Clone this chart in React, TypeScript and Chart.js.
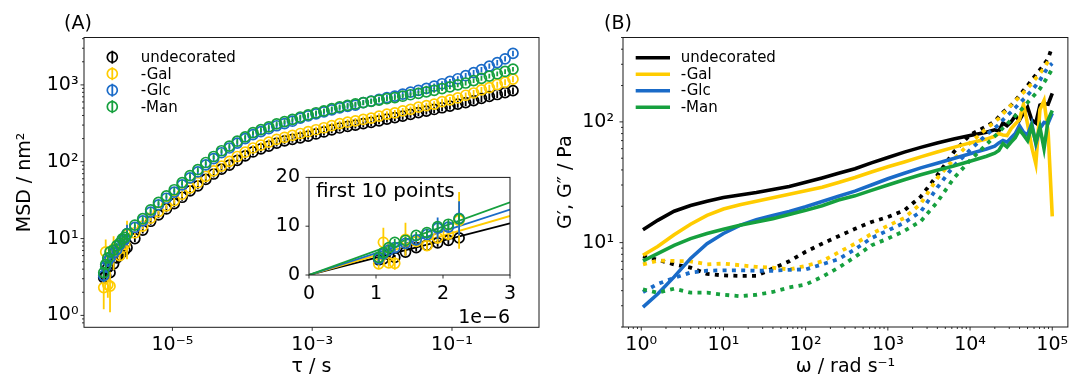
import React, { useEffect, useRef } from 'react';
import { Chart, registerables } from 'chart.js';

Chart.register(...registerables);

const FONT_FAMILY = "'DejaVu Sans', 'Liberation Sans', sans-serif";
Chart.defaults.font.family = FONT_FAMILY;

const SERIES_LABELS = ['undecorated', '-Gal', '-Glc', '-Man'];
const SERIES_COLORS = ['#000000', '#FFCC00', '#1A6BC8', '#16A03E'];

// ---------------- Panel A: MSD vs tau ----------------
const TAU_S = [
  1.04e-6, 1.11e-6, 1.19e-6, 1.28e-6, 1.44e-6, 1.6e-6, 1.76e-6, 1.92e-6, 2.08e-6, 2.24e-6,
  2.9e-6, 3.76e-6, 4.88e-6, 6.32e-6, 8.2e-6, 1.062e-5, 1.377e-5, 1.786e-5, 2.31e-5, 3.0e-5,
  3.89e-5, 5.04e-5, 6.53e-5, 8.47e-5, 1.099e-4, 1.422e-4, 1.845e-4, 2.393e-4, 3.1e-4, 4.02e-4,
  5.21e-4, 6.75e-4, 8.75e-4, 1.135e-3, 1.472e-3, 1.905e-3, 2.47e-3, 3.21e-3, 4.15e-3, 5.38e-3,
  6.98e-3, 9.04e-3, 1.172e-2, 1.521e-2, 1.972e-2, 2.55e-2, 3.31e-2, 4.3e-2, 5.56e-2, 7.21e-2,
  9.35e-2, 0.121, 0.157, 0.204, 0.264, 0.342, 0.444, 0.575, 0.746,
];

const MSD_UNDECORATED = [
  3.1, 3.3, 4.2, 3.6, 4.7, 5.6, 6.1, 6.6, 7.1, 7.6,
  10.0, 12.9, 16.8, 20.4, 24.3, 28.5, 34.5, 41.7, 48.6, 58.9,
  69.2, 80.0, 90.2, 104, 119, 134, 147, 160, 175, 187,
  196, 205, 216, 230, 244, 260, 275, 288, 300, 313,
  325, 341, 359, 376, 392, 414, 437, 457, 479, 504,
  531, 562, 589, 624, 668, 708, 750, 794, 841,
];
const MSD_GAL = [
  2.3, 6.7, 2.5, 2.4, 7.3, 6.9, 6.0, 7.6, 8.4, 11.2,
  11.9, 14.5, 18.4, 22.4, 26.6, 31.3, 37.8, 45.7, 53.3, 64.6,
  75.9, 87.7, 101, 117, 133, 151, 165, 180, 196, 208,
  220, 233, 246, 261, 277, 295, 313, 327, 340, 355,
  369, 392, 417, 432, 460, 481, 513, 537, 562, 605,
  638, 676, 733, 785, 861, 923, 1012, 1084, 1189,
];
const MSD_GLC = [
  3.3, 4.3, 5.1, 5.6, 6.5, 7.2, 8.3, 9.6, 9.8, 11.6,
  14.0, 17.0, 22.1, 27.5, 33.5, 40.3, 49.9, 61.7, 73.6, 91.2,
  110, 131, 151, 175, 200, 225, 247, 269, 294, 314,
  337, 369, 394, 419, 445, 473, 501, 525, 546, 589,
  617, 649, 684, 716, 759, 804, 851, 902, 966, 1035,
  1109, 1202, 1318, 1445, 1585, 1758, 1950, 2188, 2570,
];
const MSD_MAN = [
  3.6, 4.6, 5.6, 6.7, 7.1, 8.1, 8.7, 9.9, 10.4, 11.5,
  15.0, 18.2, 23.7, 29.5, 35.9, 43.2, 53.5, 66.1, 78.9, 97.7,
  117, 139, 160, 185, 211, 239, 262, 285, 311, 333,
  356, 382, 407, 434, 460, 490, 519, 543, 565, 589,
  612, 635, 661, 684, 713, 745, 776, 813, 851, 895,
  944, 1000, 1059, 1135, 1216, 1303, 1396, 1496, 1603,
];

// error bars of the first 10 points (nm^2)
const ERR10_UNDECORATED = [0.5, 0.6, 0.6, 0.5, 0.7, 0.8, 0.8, 0.8, 0.9, 1.0];
const ERR10_GAL = [1.1, 3.0, 0.8, 1.3, 3.4, 0.9, 0.9, 1.2, 1.3, 5.8];
const ERR10_GLC = [0.6, 0.7, 0.7, 0.7, 0.8, 0.8, 0.9, 2.2, 1.1, 3.5];
const ERR10_MAN = [0.5, 0.6, 0.6, 0.7, 0.7, 0.7, 0.8, 0.8, 0.9, 1.0];
// relative error of the later points
const REL_ERR = [0.1, 0.09, 0.08, 0.07];
const INSET_POINTS = 10;
// value of the linear fits at tau = 3e-6 s
const FIT_AT_3US = [10.6, 12.1, 13.4, 14.9];

const A_X_MIN = 5.43e-7;
const A_X_MAX = 1.758;
const A_Y_MIN = 0.713;
const A_Y_MAX = 4140;
const A_X_TICK_VALUES = [1e-5, 1e-3, 1e-1];
const A_X_TICK_LABELS = ['10⁻⁵', '10⁻³', '10⁻¹'];
const A_Y_TICK_VALUES = [1, 10, 100, 1000];
const A_Y_TICK_LABELS = ['10⁰', '10¹', '10²', '10³'];

const INSET_X_TICK_VALUES = [0, 1e-6, 2e-6, 3e-6];
const INSET_X_TICK_LABELS = ['0', '1', '2', '3'];
const INSET_Y_TICK_VALUES = [0, 10, 20];
const INSET_Y_TICK_LABELS = ['0', '10', '20'];

// ---------------- Panel B: G', G'' vs omega ----------------
const OMEGA = [
  1.05, 1.585, 2.512, 3.981, 6.31, 10, 15.85, 25.12, 39.81, 63.1,
  100, 158.5, 251.2, 398.1, 631, 1000, 1585, 2512, 3981, 6310,
  10000, 15850, 19950, 22390, 25120, 28180, 31620, 35480, 39810, 44670,
  50120, 56230, 63100, 70790, 79430, 89130, 100000,
];
const GP_UNDECORATED = [
  12.8, 15.3, 18.2, 20.3, 22.0, 23.6, 24.8, 26.0, 27.5, 29.2,
  31.6, 34.3, 37.5, 40.9, 45.8, 50.7, 56.2, 61.5, 66.8, 72.0,
  77.0, 82.0, 86, 84, 98, 93, 100, 112, 103, 118,
  132, 104, 98, 138, 142, 140, 172,
];
const GP_GAL = [
  7.85, 9.3, 11.6, 14.2, 16.8, 19.0, 20.6, 22.0, 23.5, 25.1,
  26.9, 28.8, 31.5, 34.6, 38.5, 42.5, 46.6, 51.3, 56.2, 61.5,
  67.0, 72.0, 76, 80, 78, 77, 88, 96, 104, 140,
  96, 62, 45, 126, 150, 82, 16.5,
];
const GP_GLC = [
  2.92, 3.75, 5.2, 7.4, 9.8, 11.9, 13.9, 15.5, 16.8, 18.1,
  19.8, 21.9, 24.2, 26.7, 30.0, 33.8, 37.6, 41.6, 45.5, 49.8,
  54.5, 59.6, 63, 67, 70, 68, 74, 80, 93, 82,
  78, 97, 66, 88, 99, 98, 118,
];
const GP_MAN = [
  7.05, 8.1, 9.5, 10.8, 11.9, 12.9, 13.9, 14.8, 15.8, 17.1,
  18.5, 20.2, 22.5, 24.4, 27.1, 30.0, 33.2, 36.5, 39.8, 43.2,
  47.2, 51.9, 55, 58, 66, 62, 68, 74, 86, 78,
  70, 92, 68, 90, 60, 104, 124,
];
const GPP_UNDECORATED = [
  7.7, 7.2, 6.6, 6.2, 5.5, 5.35, 5.3, 5.3, 6.1, 7.0,
  8.4, 9.8, 11.3, 13.0, 14.8, 16.3, 18.5, 24, 36, 56,
  78, 92, 101, 110, 120, 128, 138, 150, 165, 182,
  200, 222, 245, 270, 300, 335, 420,
];
const GPP_GAL = [
  6.6, 7.1, 7.05, 7.0, 6.6, 6.7, 6.5, 6.3, 6.2, 6.0,
  6.4, 7.0, 8.3, 9.8, 11.8, 13.8, 16.0, 21, 34, 49,
  67, 88, 100, 107, 117, 127, 138, 149, 161, 175,
  190, 208, 230, 252, 278, 318, 335,
];
const GPP_GLC = [
  3.9, 4.55, 5.1, 5.65, 5.85, 5.9, 5.9, 5.85, 5.85, 5.95,
  6.0, 6.6, 7.3, 8.8, 10.9, 12.6, 14.6, 18.0, 28.5, 43.0,
  58.5, 78.4, 89, 95, 104, 112, 121, 131, 142, 154,
  167, 182, 200, 222, 252, 285, 305,
];
const GPP_MAN = [
  4.1, 3.85, 4.15, 3.85, 3.85, 3.7, 3.6, 3.7, 3.9, 4.25,
  4.5, 5.2, 6.2, 7.6, 9.5, 10.8, 12.5, 15, 21.6, 34,
  48, 65, 76, 82, 89, 96, 104, 112, 122, 132,
  145, 158, 172, 188, 212, 240, 275,
];

const B_X_MIN = 0.604;
const B_X_MAX = 154900;
const B_Y_MIN = 2;
const B_Y_MAX = 500;
const B_X_TICK_VALUES = [1, 10, 100, 1000, 10000, 100000];
const B_X_TICK_LABELS = ['10⁰', '10¹', '10²', '10³', '10⁴', '10⁵'];
const B_Y_TICK_VALUES = [10, 100];
const B_Y_TICK_LABELS = ['10¹', '10²'];

// ---------------- helpers ----------------
const TICK_FONT = { family: FONT_FAMILY, size: 19 };
const TITLE_FONT = { family: FONT_FAMILY, size: 19 };
const MARKER_RADIUS = 5;
const MARKER_WIDTH = 1.7;

function labelFrom(values: number[], labels: string[]) {
  return (v: any) => {
    const n = Number(v);
    const i = values.findIndex((t) => Math.abs(t - n) <= Math.abs(t) * 1e-6 + 1e-18);
    return i >= 0 ? labels[i] : '';
  };
}

function decadeTicks(min: number, max: number) {
  const out: { value: number }[] = [];
  for (let e = Math.floor(Math.log10(min)); e <= Math.ceil(Math.log10(max)); e++) {
    for (let k = 1; k <= 9; k++) {
      const v = k * Math.pow(10, e);
      if (v >= min && v <= max) out.push({ value: v });
    }
  }
  return out;
}

function makeFramePlugin(fill: string | null, majorLen: number, minorLen: number) {
  return {
    id: 'frame',
    beforeDraw(chart: any) {
      if (!fill) return;
      const { left, top, right, bottom } = chart.chartArea;
      const ctx = chart.ctx;
      ctx.save();
      ctx.fillStyle = fill;
      ctx.fillRect(left, top, right - left, bottom - top);
      ctx.restore();
    },
    afterDraw(chart: any) {
      const ctx = chart.ctx;
      const { left, top, right, bottom } = chart.chartArea;
      ctx.save();
      ctx.strokeStyle = '#1a1a1a';
      ctx.lineWidth = 1;
      ctx.strokeRect(left, top, right - left, bottom - top);
      ctx.lineWidth = 0.9;
      ctx.beginPath();
      const xs = chart.scales.x;
      const ys = chart.scales.y;
      xs.ticks.forEach((t: any) => {
        const p = xs.getPixelForValue(t.value);
        if (p < left - 0.5 || p > right + 0.5) return;
        const len = t.label ? majorLen : minorLen;
        ctx.moveTo(p, bottom);
        ctx.lineTo(p, bottom + len);
      });
      ys.ticks.forEach((t: any) => {
        const p = ys.getPixelForValue(t.value);
        if (p < top - 0.5 || p > bottom + 0.5) return;
        const len = t.label ? majorLen : minorLen;
        ctx.moveTo(left, p);
        ctx.lineTo(left - len, p);
      });
      ctx.stroke();
      ctx.restore();
    },
  };
}

const errorBarPlugin = {
  id: 'errorBars',
  afterDatasetDraw(chart: any, args: any) {
    const ds = chart.data.datasets[args.index];
    if (!ds || !ds.errors) return;
    const ys = chart.scales.y;
    const ctx = chart.ctx;
    const a = chart.chartArea;
    ctx.save();
    ctx.beginPath();
    ctx.rect(a.left, a.top, a.right - a.left, a.bottom - a.top);
    ctx.clip();
    ctx.strokeStyle = ds.borderColor;
    ctx.lineWidth = 1.8;
    ctx.beginPath();
    args.meta.data.forEach((el: any, j: number) => {
      const v = ds.data[j].y;
      const e = ds.errors[j];
      let lo = v - e;
      if (ys.type === 'logarithmic' && lo <= 0) lo = ys.min;
      ctx.moveTo(el.x, ys.getPixelForValue(v + e));
      ctx.lineTo(el.x, ys.getPixelForValue(lo));
    });
    ctx.stroke();
    ctx.restore();
  },
};

type TextItem = { text: string; x: number; y: number; size: number };
function makeTextPlugin(items: TextItem[]) {
  return {
    id: 'texts',
    afterDraw(chart: any) {
      const ctx = chart.ctx;
      ctx.save();
      ctx.fillStyle = '#000';
      ctx.textAlign = 'left';
      ctx.textBaseline = 'alphabetic';
      items.forEach((it) => {
        ctx.font = `${it.size}px ${FONT_FAMILY}`;
        ctx.fillText(it.text, it.x, it.y);
      });
      ctx.restore();
    },
  };
}

type LegendSpec = {
  kind: 'marker' | 'line';
  symX0: number;
  symX1: number;
  textX: number;
  y0: number;
  dy: number;
};
function makeLegendPlugin(spec: LegendSpec) {
  return {
    id: 'panelLegend',
    afterDraw(chart: any) {
      const ctx = chart.ctx;
      ctx.save();
      ctx.font = `15px ${FONT_FAMILY}`;
      ctx.textBaseline = 'middle';
      ctx.textAlign = 'left';
      SERIES_LABELS.forEach((label, i) => {
        const y = spec.y0 + i * spec.dy;
        ctx.strokeStyle = SERIES_COLORS[i];
        if (spec.kind === 'marker') {
          const cx = spec.symX0;
          const cy = y - 1;
          ctx.lineWidth = MARKER_WIDTH;
          ctx.beginPath();
          ctx.arc(cx, cy, MARKER_RADIUS, 0, Math.PI * 2);
          ctx.stroke();
          ctx.lineWidth = 1.8;
          ctx.beginPath();
          ctx.moveTo(cx, cy - 6.5);
          ctx.lineTo(cx, cy + 6.5);
          ctx.stroke();
        } else {
          ctx.lineWidth = 3.6;
          ctx.beginPath();
          ctx.moveTo(spec.symX0, y - 0.5);
          ctx.lineTo(spec.symX1, y - 0.5);
          ctx.stroke();
        }
        ctx.fillStyle = '#000';
        ctx.fillText(label, spec.textX, y);
      });
      ctx.restore();
    },
  };
}

const MSD_SERIES = [MSD_UNDECORATED, MSD_GAL, MSD_GLC, MSD_MAN];
const ERR10_SERIES = [ERR10_UNDECORATED, ERR10_GAL, ERR10_GLC, ERR10_MAN];
const GP_SERIES = [GP_UNDECORATED, GP_GAL, GP_GLC, GP_MAN];
const GPP_SERIES = [GPP_UNDECORATED, GPP_GAL, GPP_GLC, GPP_MAN];

function circleStyle(i: number) {
  return {
    showLine: false,
    borderColor: SERIES_COLORS[i],
    backgroundColor: 'rgba(0,0,0,0)',
    pointBackgroundColor: 'rgba(0,0,0,0)',
    pointBorderColor: SERIES_COLORS[i],
    pointBorderWidth: MARKER_WIDTH,
    pointRadius: MARKER_RADIUS,
    pointHoverRadius: MARKER_RADIUS,
    pointStyle: 'circle',
  };
}

const AXIS_COMMON: any = {
  grid: { display: false, drawTicks: true, tickLength: 3 },
  border: { display: false },
};

function buildChartA(canvas: HTMLCanvasElement) {
  const datasets = MSD_SERIES.map((vals, i) => ({
    label: SERIES_LABELS[i],
    data: TAU_S.map((t, j) => ({ x: t, y: vals[j] })),
    errors: vals.map((v, j) => (j < INSET_POINTS ? ERR10_SERIES[i][j] : v * REL_ERR[i])),
    order: 4 - i,
    ...circleStyle(i),
  }));
  return new Chart(canvas, {
    type: 'scatter',
    data: { datasets } as any,
    options: {
      animation: false,
      responsive: false,
      maintainAspectRatio: false,
      events: [],
      layout: { autoPadding: false, padding: { left: 0, top: 37.5, right: 21, bottom: 0 } },
      plugins: { legend: { display: false }, tooltip: { enabled: false } },
      scales: {
        x: {
          type: 'logarithmic',
          min: A_X_MIN,
          max: A_X_MAX,
          ...AXIS_COMMON,
          afterBuildTicks: (s: any) => {
            s.ticks = A_X_TICK_VALUES.map((v) => ({ value: v }));
          },
          afterFit: (s: any) => {
            s.height = 50.7;
          },
          ticks: {
            autoSkip: false,
            maxRotation: 0,
            minRotation: 0,
            padding: 3.7,
            color: '#000',
            font: TICK_FONT,
            callback: labelFrom(A_X_TICK_VALUES, A_X_TICK_LABELS),
          },
          title: { display: true, text: 'τ / s', color: '#000', font: TITLE_FONT, padding: { top: 0, bottom: 0 } },
        },
        y: {
          type: 'logarithmic',
          min: A_Y_MIN,
          max: A_Y_MAX,
          ...AXIS_COMMON,
          afterBuildTicks: (s: any) => {
            s.ticks = decadeTicks(A_Y_MIN, A_Y_MAX);
          },
          afterFit: (s: any) => {
            s.width = 84;
          },
          ticks: {
            autoSkip: false,
            padding: 2.5,
            color: '#000',
            font: TICK_FONT,
            callback: labelFrom(A_Y_TICK_VALUES, A_Y_TICK_LABELS),
          },
          title: { display: true, text: 'MSD / nm²', color: '#000', font: TITLE_FONT, padding: { top: 13.6, bottom: 0 } },
        },
      },
    } as any,
    plugins: [
      makeFramePlugin(null, 3.5, 2),
      errorBarPlugin,
      makeLegendPlugin({ kind: 'marker', symX0: 112.3, symX1: 112.3, textX: 140.7, y0: 58.2, dy: 16.5 }),
      makeTextPlugin([{ text: '(A)', x: 64, y: 29.2, size: 19 }]),
    ] as any,
  });
}

function buildInset(canvas: HTMLCanvasElement) {
  const fits = FIT_AT_3US.map((v, i) => ({
    label: SERIES_LABELS[i] + ' fit',
    data: [
      { x: 0, y: 0 },
      { x: INSET_X_TICK_VALUES[3], y: v },
    ],
    showLine: true,
    borderColor: SERIES_COLORS[i],
    borderWidth: 1.8,
    pointRadius: 0,
    pointHoverRadius: 0,
    order: 20 - i,
  }));
  const pts = MSD_SERIES.map((vals, i) => ({
    label: SERIES_LABELS[i],
    data: TAU_S.slice(0, INSET_POINTS).map((t, j) => ({ x: t, y: vals[j] })),
    errors: ERR10_SERIES[i].slice(0, INSET_POINTS),
    order: 4 - i,
    ...circleStyle(i),
  }));
  return new Chart(canvas, {
    type: 'scatter',
    data: { datasets: [...fits, ...pts] } as any,
    options: {
      animation: false,
      responsive: false,
      maintainAspectRatio: false,
      events: [],
      layout: { autoPadding: false, padding: { left: 0, top: 13.3, right: 12, bottom: 0 } },
      plugins: { legend: { display: false }, tooltip: { enabled: false } },
      scales: {
        x: {
          type: 'linear',
          min: 0,
          max: INSET_X_TICK_VALUES[3],
          ...AXIS_COMMON,
          afterBuildTicks: (s: any) => {
            s.ticks = INSET_X_TICK_VALUES.map((v) => ({ value: v }));
          },
          afterFit: (s: any) => {
            s.height = 60;
          },
          ticks: {
            autoSkip: false,
            maxRotation: 0,
            minRotation: 0,
            padding: 4.5,
            color: '#000',
            font: TICK_FONT,
            callback: labelFrom(INSET_X_TICK_VALUES, INSET_X_TICK_LABELS),
          },
          title: {
            display: true,
            text: '1e−6',
            align: 'end',
            color: '#000',
            font: TICK_FONT,
            padding: { top: 0, bottom: 5.6 },
          },
        },
        y: {
          type: 'linear',
          min: INSET_Y_TICK_VALUES[0],
          max: INSET_Y_TICK_VALUES[2],
          ...AXIS_COMMON,
          afterBuildTicks: (s: any) => {
            s.ticks = INSET_Y_TICK_VALUES.map((v) => ({ value: v }));
          },
          afterFit: (s: any) => {
            s.width = 47;
          },
          ticks: {
            autoSkip: false,
            padding: 6,
            color: '#000',
            font: TICK_FONT,
            callback: labelFrom(INSET_Y_TICK_VALUES, INSET_Y_TICK_LABELS),
          },
        },
      },
    } as any,
    plugins: [
      makeFramePlugin('#ffffff', 3.5, 2),
      errorBarPlugin,
      makeTextPlugin([{ text: 'first 10 points', x: 54, y: 36.7, size: 20 }]),
    ] as any,
  });
}

function buildChartB(canvas: HTMLCanvasElement) {
  const datasets: any[] = [];
  GP_SERIES.forEach((vals, i) => {
    datasets.push({
      label: SERIES_LABELS[i] + ' G′',
      data: OMEGA.map((w, j) => ({ x: w, y: vals[j] })),
      showLine: true,
      borderColor: SERIES_COLORS[i],
      borderWidth: 3.6,
      pointRadius: 0,
      pointHoverRadius: 0,
      tension: 0,
      order: 8 - 2 * i,
    });
    datasets.push({
      label: SERIES_LABELS[i] + ' G″',
      data: OMEGA.map((w, j) => ({ x: w, y: GPP_SERIES[i][j] })),
      showLine: true,
      borderColor: SERIES_COLORS[i],
      borderWidth: 3.8,
      borderDash: [4, 5.3],
      borderCapStyle: 'butt',
      pointRadius: 0,
      pointHoverRadius: 0,
      tension: 0,
      order: 7 - 2 * i,
    });
  });
  return new Chart(canvas, {
    type: 'scatter',
    data: { datasets },
    options: {
      animation: false,
      responsive: false,
      maintainAspectRatio: false,
      events: [],
      layout: { autoPadding: false, padding: { left: 0, top: 37.5, right: 4, bottom: 0 } },
      plugins: { legend: { display: false }, tooltip: { enabled: false } },
      scales: {
        x: {
          type: 'logarithmic',
          min: B_X_MIN,
          max: B_X_MAX,
          ...AXIS_COMMON,
          afterBuildTicks: (s: any) => {
            s.ticks = decadeTicks(B_X_MIN, B_X_MAX);
          },
          afterFit: (s: any) => {
            s.height = 51;
          },
          ticks: {
            autoSkip: false,
            maxRotation: 0,
            minRotation: 0,
            padding: 3.7,
            color: '#000',
            font: TICK_FONT,
            callback: labelFrom(B_X_TICK_VALUES, B_X_TICK_LABELS),
          },
          title: { display: true, text: 'ω / rad s⁻¹', color: '#000', font: TITLE_FONT, padding: { top: 0, bottom: 0 } },
        },
        y: {
          type: 'logarithmic',
          min: B_Y_MIN,
          max: B_Y_MAX,
          ...AXIS_COMMON,
          afterBuildTicks: (s: any) => {
            s.ticks = decadeTicks(B_Y_MIN, B_Y_MAX);
          },
          afterFit: (s: any) => {
            s.width = 78;
          },
          ticks: {
            autoSkip: false,
            padding: 6,
            color: '#000',
            font: TICK_FONT,
            callback: labelFrom(B_Y_TICK_VALUES, B_Y_TICK_LABELS),
          },
          title: { display: true, text: 'G′, G″ / Pa', color: '#000', font: TITLE_FONT, padding: { top: 9.6, bottom: 0 } },
        },
      },
    } as any,
    plugins: [
      makeFramePlugin(null, 3.5, 2),
      makeLegendPlugin({ kind: 'line', symX0: 90.7, symX1: 125, textX: 135.7, y0: 58.2, dy: 16.5 }),
      makeTextPlugin([{ text: '(B)', x: 59, y: 29.2, size: 19 }]),
    ] as any,
  });
}

export default function App() {
  const aRef = useRef<HTMLCanvasElement | null>(null);
  const bRef = useRef<HTMLCanvasElement | null>(null);
  const insetRef = useRef<HTMLCanvasElement | null>(null);

  useEffect(() => {
    const charts: Chart[] = [];
    if (aRef.current) charts.push(buildChartA(aRef.current));
    if (bRef.current) charts.push(buildChartB(bRef.current));
    if (insetRef.current) charts.push(buildInset(insetRef.current));
    return () => {
      charts.forEach((c) => c.destroy());
    };
  }, []);

  return (
    <div
      style={{
        position: 'absolute',
        left: 0,
        top: 0,
        width: 1072,
        height: 378,
        background: '#ffffff',
        overflow: 'hidden',
      }}
    >
      <canvas ref={aRef} width={560} height={378} style={{ position: 'absolute', left: 0, top: 0 }} />
      <canvas ref={bRef} width={527} height={378} style={{ position: 'absolute', left: 545, top: 0 }} />
      <canvas ref={insetRef} width={260} height={175} style={{ position: 'absolute', left: 262, top: 160 }} />
    </div>
  );
}
